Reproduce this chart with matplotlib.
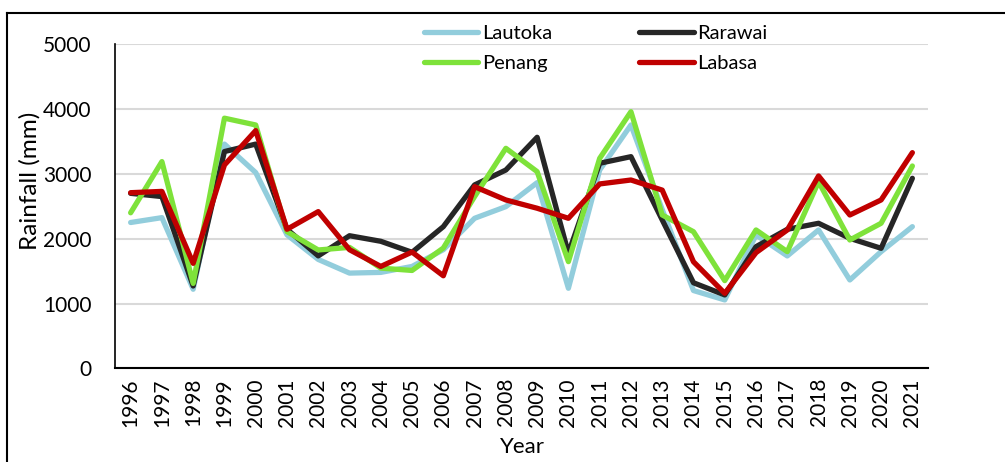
import matplotlib
matplotlib.use("Agg")
import matplotlib.pyplot as plt
from matplotlib.lines import Line2D

plt.rcParams['font.family'] = ['Lato', 'DejaVu Sans']

# ---- data ----
years = [str(y) for y in range(1996, 2022)]
lautoka = [2250, 2325, 1220, 3460, 3020, 2060, 1680, 1469, 1480, 1572, 1830, 2315, 2495,
           2865, 1235, 3060, 3755, 2450, 1200, 1055, 2058, 1734, 2135, 1363, 1800, 2186]
rarawai = [2700, 2650, 1270, 3345, 3460, 2145, 1735, 2046, 1960, 1790, 2186, 2830, 3060,
           3565, 1775, 3164, 3266, 2290, 1320, 1132, 1877, 2145, 2238, 2006, 1852, 2932]
penang = [2400, 3190, 1310, 3860, 3755, 2110, 1826, 1866, 1546, 1510, 1856, 2650, 3395,
          3035, 1646, 3240, 3960, 2366, 2108, 1353, 2135, 1800, 2880, 1980, 2238, 3122]
labasa = [2710, 2730, 1620, 3138, 3668, 2145, 2418, 1830, 1572, 1794, 1428, 2803, 2598,
          2470, 2315, 2845, 2906, 2750, 1644, 1157, 1785, 2135, 2968, 2366, 2598, 3328]

series = [("Lautoka", lautoka, "#92CDDC"),
          ("Rarawai", rarawai, "#262626"),
          ("Penang", penang, "#7EE23A"),
          ("Labasa", labasa, "#C00000")]

W, H = 1005, 462
fig = plt.figure(figsize=(W / 100, H / 100), dpi=100)
ax = fig.add_axes([115 / W, 1 - 368.3 / H, (928 - 115) / W, (368.3 - 44.3) / H])

x = list(range(len(years)))
handles = {}
for name, vals, col in series:
    ln, = ax.plot(x, vals, color=col, lw=3.8, label=name,
                  solid_capstyle="round", solid_joinstyle="round")
    handles[name] = ln

ax.set_xlim(-0.5, len(years) - 0.5)
ax.set_ylim(0, 5000)
ax.set_yticks(range(0, 5001, 1000))
ax.set_xticks(x)
ax.set_xticklabels(years, rotation=90)
ax.tick_params(axis="y", length=0, pad=17, labelsize=15)
ax.tick_params(axis="x", length=0, pad=7, labelsize=15)
ax.grid(axis="y", color="#D9D9D9", lw=1.5)
ax.set_axisbelow(True)
for s in ["top", "right"]:
    ax.spines[s].set_visible(False)
ax.spines["left"].set_linewidth(1.2)
ax.spines["bottom"].set_linewidth(1.5)

fig.text(522 / W, 1 - 447 / H, "Year", ha="center", va="center", fontsize=16)
fig.text(30 / W, 1 - 181 / H, "Rainfall (mm)", ha="center", va="center",
         rotation=90, fontsize=17.5)

order = ["Lautoka", "Penang", "Rarawai", "Labasa"]
fig.legend([handles[n] for n in order], order, ncol=2, frameon=False,
           loc="upper left", bbox_to_anchor=(424 / W, 1 - 25 / H),
           fontsize=14.5, handlelength=2.7, handletextpad=0.2,
           columnspacing=4.3, labelspacing=0.65, borderpad=0, borderaxespad=0)

# outer frame (top and left edges visible in the reference)
fig.add_artist(Line2D([7 / W, 1], [1 - 13 / H] * 2, transform=fig.transFigure,
                      color="black", lw=1.5))
fig.add_artist(Line2D([7 / W] * 2, [0, 1 - 13 / H], transform=fig.transFigure,
                      color="black", lw=1.5))

fig.savefig("out.png", dpi=100)
